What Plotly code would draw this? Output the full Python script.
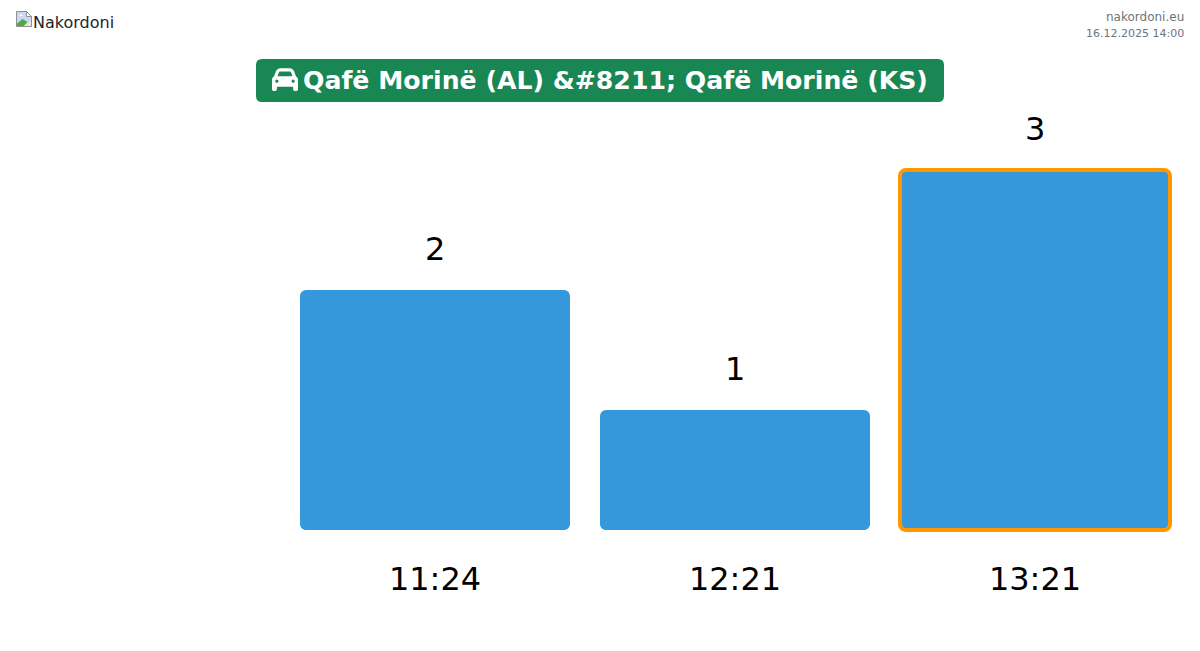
import plotly.graph_objects as go

FONT = "DejaVu Sans"

times = ["11:24", "12:21", "13:21"]
counts = [2, 1, 3]
outline_widths = [0, 0, 4]

title_text = "Qafë Morinë (AL) &amp;#8211; Qafë Morinë (KS)"
logo_text = "Nakordoni"
site_text = "nakordoni.eu"
stamp_text = "16.12.2025 14:00"

COLORS = {
    "bar": "#3498db",
    "outline": "#ff9800",
    "pill": "#198754",
    "muted": "#6c757d",
    "logo": "#212529",
}

W, H = 1200, 651
ZERO_Y = 530        # page row of the bars' baseline
PLOT_H = 540        # plot area runs a little past it so the outline isn't clipped
PX_PER_UNIT = 120
BAR_HALF = 135
RADIUS = 6

CAR_ICON = (
    "data:image/svg+xml;utf8,<svg xmlns='http://www.w3.org/2000/svg' viewBox='0 0 512 512'>"
    "<path fill='white' d='M135.2 117.4L109.1 192H402.9l-26.1-74.6C372.3 104.6 360.2 96 346.6 96H165.4"
    "c-13.6 0-25.7 8.6-30.2 21.4zM39.6 196.8L74.8 96.3C88.3 57.8 124.6 32 165.4 32H346.6"
    "c40.8 0 77.1 25.8 90.6 64.3l35.2 100.5c23.2 9.6 39.6 32.5 39.6 59.2V400v48c0 17.7-14.3 32-32 32H448"
    "c-17.7 0-32-14.3-32-32V400H96v48c0 17.7-14.3 32-32 32H32c-17.7 0-32-14.3-32-32V400 256"
    "c0-26.7 16.4-49.6 39.6-59.2zM128 288a32 32 0 1 0 -64 0 32 32 0 1 0 64 0z"
    "m288 32a32 32 0 1 0 0-64 32 32 0 1 0 0 64z'/></svg>"
)

# browser's broken image placeholder
BROKEN_ICON = (
    "data:image/svg+xml;utf8,<svg xmlns='http://www.w3.org/2000/svg' viewBox='0 0 16 16'>"
    "<path d='M.5.5h10l5 5v10H.5z' fill='%23c9d9f2' stroke='%23909090'/>"
    "<path d='M10.5.5v5h5z' fill='white' stroke='%23909090'/>"
    "<path d='M3 5c1-2 3-2 4 0z' fill='white'/>"
    "<path d='M1 15v-2.500l5.500-4.500 5 3-4 4z' fill='%2352a83f'/>"
    "<path d='M9 15l6-5v5z' fill='%23e8e8e8'/></svg>"
)


def px_x(x):
    return x / W


def px_y(y):
    # paper coords are relative to the plot area, which starts at the page top
    return 1 - y / PLOT_H


def page_text(x, y, text, size, color, anchor="left", bold=False):
    return dict(
        x=px_x(x), y=px_y(y), xref="paper", yref="paper",
        text=f"<b>{text}</b>" if bold else text,
        showarrow=False, xanchor=anchor, yanchor="middle",
        font=dict(family=FONT, size=size, color=color),
    )


def corner_notch(cat, cx, cy, r, color):
    # plotly only rounds the far end of a bar, so the bottom corners get covered
    # offsets are pixels from the bar's base, y pointing up
    ix = -1 if cx > 0 else 1
    k = r * 0.448
    path = (
        f"M {cx + ix * r} {cy} L {cx} {cy} L {cx} {cy + r} "
        f"C {cx} {cy + k} {cx + ix * k} {cy} {cx + ix * r} {cy} Z"
    )
    return dict(
        type="path", path=path, xref="x", yref="y",
        xsizemode="pixel", ysizemode="pixel", xanchor=cat, yanchor=0,
        fillcolor=color, line_width=0, layer="above",
    )


fig = go.Figure(go.Bar(
    x=times,
    y=counts,
    marker=dict(
        color=COLORS["bar"],
        cornerradius=RADIUS,
        line=dict(color=COLORS["outline"], width=outline_widths),
    ),
    cliponaxis=False,
    hoverinfo="skip",
))

annotations = [
    dict(x=t, y=c, xref="x", yref="y", text=str(c), showarrow=False,
         yanchor="middle", yshift=41, font=dict(family=FONT, size=32, color="black"))
    for t, c in zip(times, counts)
]
annotations += [
    page_text(31, 22, logo_text, 16, COLORS["logo"]),
    page_text(1186, 17, site_text, 12, COLORS["muted"], anchor="right"),
    page_text(1186, 33, stamp_text, 11, COLORS["muted"], anchor="right"),
    page_text(301, 80, title_text, 25.2, "white", bold=True),
]

# title pill with rounded corners, in page pixels
l, r, t, b, rad = px_x(256), px_x(944), px_y(59), px_y(102), 6
rx, ry = rad / W, rad / PLOT_H
pill = (
    f"M {l + rx} {t} L {r - rx} {t} Q {r} {t} {r} {t - ry} "
    f"L {r} {b + ry} Q {r} {b} {r - rx} {b} "
    f"L {l + rx} {b} Q {l} {b} {l} {b + ry} "
    f"L {l} {t - ry} Q {l} {t} {l + rx} {t} Z"
)

shapes = [dict(type="path", path=pill, xref="paper", yref="paper",
               fillcolor=COLORS["pill"], line_width=0, layer="below")]
for cat, lw in zip(times, outline_widths):
    half = lw / 2
    for side in (-1, 1):
        outer = side * (BAR_HALF + half)
        shapes.append(corner_notch(cat, outer, -half, RADIUS + half, "white"))
        if lw:
            inner = side * (BAR_HALF - half)
            shapes.append(corner_notch(cat, inner, half, RADIUS - half, COLORS["outline"]))

fig.update_layout(
    width=W,
    height=H,
    autosize=False,
    margin=dict(l=0, r=0, t=0, b=H - PLOT_H, pad=0),
    paper_bgcolor="white",
    plot_bgcolor="white",
    bargap=0.1,
    showlegend=False,
    xaxis=dict(
        type="category",
        range=[-1.45, 2.55],
        showgrid=False,
        zeroline=False,
        showline=False,
        ticks="outside",
        ticklen=11,
        tickcolor="rgba(0,0,0,0)",
        tickfont=dict(family=FONT, size=32, color="black"),
    ),
    yaxis=dict(
        range=[(ZERO_Y - PLOT_H) / PX_PER_UNIT, ZERO_Y / PX_PER_UNIT],
        visible=False,
    ),
    annotations=annotations,
    shapes=shapes,
    images=[
        dict(source=CAR_ICON, xref="paper", yref="paper", x=px_x(272), y=px_y(66.5),
             sizex=26 / W, sizey=26 / PLOT_H, xanchor="left", yanchor="top", layer="above"),
        dict(source=BROKEN_ICON, xref="paper", yref="paper", x=px_x(16), y=px_y(11),
             sizex=16 / W, sizey=16 / PLOT_H, xanchor="left", yanchor="top", layer="above"),
    ],
)

fig.write_html(
    "out.html",
    config={"displayModeBar": False},
    post_script="document.body.style.margin='0';document.body.style.overflow='hidden';",
)
